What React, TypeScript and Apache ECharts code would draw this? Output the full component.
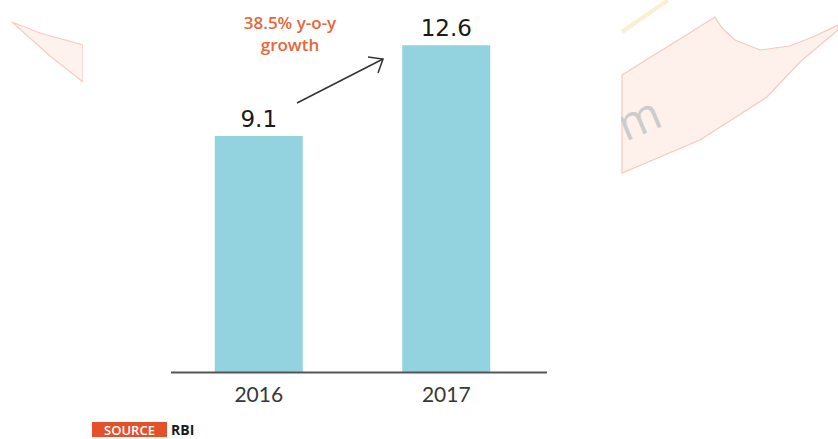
import React, { useEffect, useRef } from "react";
import * as echarts from "echarts";

const categories = ["2016", "2017"];
const values = [9.1, 12.6];
const sourceTag = "SOURCE";
const sourceName = "RBI";

export default function App() {
  const ref = useRef<HTMLDivElement>(null);
  useEffect(() => {
    document.body.style.margin = "0";
    const chart = echarts.init(ref.current!, null, { renderer: "svg" });
    const growth = ((values[1] - values[0]) / values[0]) * 100;
    chart.setOption({
      animation: false,
      backgroundColor: "#ffffff",
      grid: { left: 165, right: 298, top: 9, bottom: 67 },
      xAxis: {
        type: "category",
        data: categories,
        z: 10,
        axisLine: { show: false },
        axisTick: { show: false },
        axisLabel: {
          margin: 11,
          fontSize: 21,
          color: "#383838",
          fontFamily: "Lato",
          fontWeight: 400,
        },
      },
      yAxis: { type: "value", min: 0, max: 14, show: false, splitLine: { show: false } },
      series: [
        {
          type: "bar",
          data: values,
          barWidth: 88,
          z: 5,
          itemStyle: { color: "#93d3e0" },
          label: {
            show: true,
            position: "top",
            distance: 6,
            fontSize: 23,
            color: "#1a1a1a",
            fontFamily: "DejaVu Sans",
            formatter: (p: any) => p.value.toFixed(1),
          },
        },
      ],
      graphic: [
        // watermark fragments
        {
          type: "polygon",
          z: 0,
          shape: { points: [[12, 22], [40, 33], [83, 45], [83, 82], [50, 56]] },
          style: { fill: "#fef2ee", stroke: "#f4cdc5", lineWidth: 1.2 },
        },
        {
          type: "polygon",
          z: 0,
          shape: {
            points: [
              [622, 75], [715, 17], [722, 28], [735, 40], [760, 50], [790, 46], [815, 36], [838, 25],
              [838, 30], [800, 62], [767, 97], [700, 140], [622, 173],
            ],
          },
          style: { fill: "#fef0eb", stroke: "#f4cac2", lineWidth: 1.2 },
        },
        {
          type: "line",
          z: 0,
          shape: { x1: 622, y1: 32, x2: 668, y2: 0 },
          style: { stroke: "#fbefd2", lineWidth: 4 },
        },
        {
          type: "text",
          z: 0,
          x: 638,
          y: 117,
          rotation: 0.4,
          style: {
            text: "m",
            fontSize: 46,
            fill: "#cccccc",
            fontFamily: "Open Sans",
            align: "center",
            verticalAlign: "middle",
          },
        },
        {
          type: "rect",
          z: 1,
          shape: { x: 83, y: 0, width: 538, height: 439 },
          style: { fill: "#ffffff" },
        },
        // axis baseline
        {
          type: "line",
          z: 10,
          shape: { x1: 171, y1: 372.5, x2: 547, y2: 372.5 },
          style: { stroke: "#555555", lineWidth: 2 },
        },
        // annotation
        {
          type: "text",
          z: 10,
          x: 290,
          y: 33,
          style: {
            text: `${growth.toFixed(1)}% y-o-y\ngrowth`,
            fontSize: 17,
            lineHeight: 22,
            fill: "#e8663a",
            fontFamily: "Open Sans",
            fontWeight: 600,
            align: "center",
            verticalAlign: "middle",
          },
        },
        {
          type: "line",
          z: 10,
          shape: { x1: 297, y1: 103, x2: 383, y2: 59 },
          style: { stroke: "#333333", lineWidth: 1.5 },
        },
        {
          type: "polyline",
          z: 10,
          shape: { points: [[368, 57], [383, 59], [378, 73]] },
          style: { stroke: "#333333", lineWidth: 1.5, fill: null },
        },
        // source
        {
          type: "rect",
          z: 10,
          shape: { x: 92, y: 422, width: 75, height: 15 },
          style: { fill: "#e4502a" },
        },
        {
          type: "text",
          z: 11,
          x: 129.5,
          y: 429.5,
          style: {
            text: sourceTag,
            fontSize: 13,
            fill: "#ffffff",
            fontFamily: "Open Sans",
            fontWeight: 600,
            align: "center",
            verticalAlign: "middle",
          },
        },
        {
          type: "text",
          z: 11,
          x: 171,
          y: 429.5,
          style: {
            text: sourceName,
            fontSize: 14,
            fontWeight: "bold",
            fill: "#1a1a1a",
            fontFamily: "Open Sans",
            align: "left",
            verticalAlign: "middle",
          },
        },
      ],
    });
    return () => chart.dispose();
  }, []);
  return <div ref={ref} style={{ width: 838, height: 439 }} />;
}
